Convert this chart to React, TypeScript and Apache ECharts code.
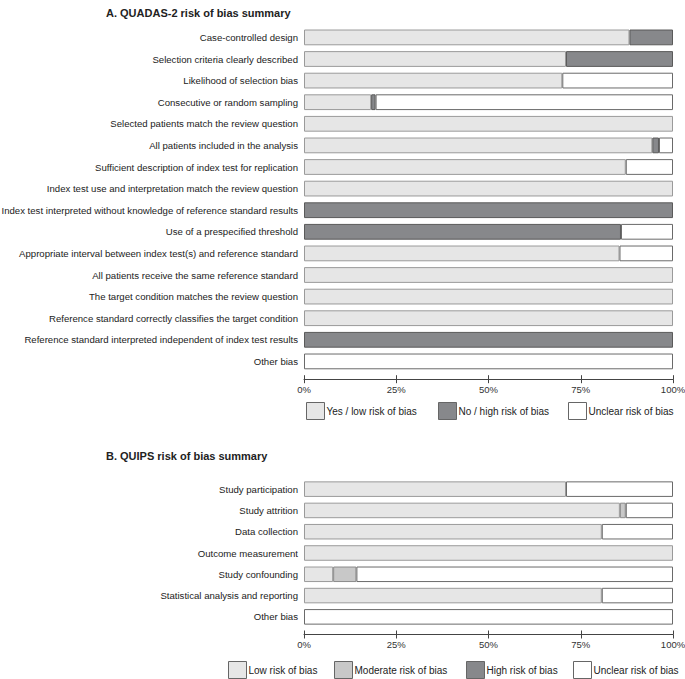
import React, { useEffect, useRef } from "react";
import * as echarts from "echarts";

const titleA = "A. QUADAS-2 risk of bias summary";
const titleB = "B. QUIPS risk of bias summary";

const categoriesA = [
  "Case-controlled design",
  "Selection criteria clearly described",
  "Likelihood of selection bias",
  "Consecutive or random sampling",
  "Selected patients match the review question",
  "All patients included in the analysis",
  "Sufficient description of index test for replication",
  "Index test use and interpretation match the review question",
  "Index test interpreted without knowledge of reference standard results",
  "Use of a prespecified threshold",
  "Appropriate interval between index test(s) and reference standard",
  "All patients receive the same reference standard",
  "The target condition matches the review question",
  "Reference standard correctly classifies the target condition",
  "Reference standard interpreted independent of index test results",
  "Other bias",
];
const yesA = [88.2, 71, 70, 18.2, 100, 94.4, 87.2, 100, null, null, 85.5, 100, 100, 100, null, null];
const noA = [11.8, 29, null, 1.2, null, 1.8, null, null, 100, 85.9, null, null, null, null, 100, null];
const unclearA = [null, null, 30, 80.6, null, 3.8, 12.8, null, null, 14.1, 14.5, null, null, null, null, 100];
const legendA = ["Yes / low risk of bias", "No / high risk of bias", "Unclear risk of bias"];

const categoriesB = [
  "Study participation",
  "Study attrition",
  "Data collection",
  "Outcome measurement",
  "Study confounding",
  "Statistical analysis and reporting",
  "Other bias",
];
const lowB = [71, 85.6, 80.7, 100, 7.9, 80.7, null];
const moderateB = [null, 1.6, null, null, 6.3, null, null];
const highB = [null, null, null, null, null, null, null];
const unclearB = [29, 12.8, 19.3, null, 85.8, 19.3, 100];
const legendB = ["Low risk of bias", "Moderate risk of bias", "High risk of bias", "Unclear risk of bias"];

const xTicks = [0, 25, 50, 75, 100];

const C_LOW = "#e6e6e6";
const C_HIGH = "#87888b";
const C_MOD = "#c8c8c8";
const C_UNCLEAR = "#ffffff";
const FONT = "Liberation Sans, Arial, sans-serif";

export default function App() {
  const ref = useRef<HTMLDivElement>(null);
  useEffect(() => {
    if (!ref.current) return;
    const chart = echarts.init(ref.current, null, { renderer: "svg" });

    const mainX = (gridIndex: number) => ({
      type: "value",
      gridIndex,
      min: xTicks[0],
      max: xTicks[xTicks.length - 1],
      interval: 25,
      position: "bottom",
      offset: 7,
      axisLine: { show: true, lineStyle: { color: "#444", width: 1 } },
      axisTick: { show: true, length: 4, lineStyle: { color: "#444" } },
      axisLabel: {
        formatter: "{value}%",
        fontSize: 9.5,
        color: "#333",
        fontFamily: FONT,
        margin: 5,
      },
      splitLine: { show: false },
    });
    const tickX = (gridIndex: number) => ({
      type: "value",
      gridIndex,
      min: xTicks[0],
      max: xTicks[xTicks.length - 1],
      interval: 25,
      position: "bottom",
      offset: 7,
      axisLine: { show: false },
      axisTick: { show: true, inside: true, length: 4, lineStyle: { color: "#444" } },
      axisLabel: { show: false },
      splitLine: { show: false },
    });
    const catY = (gridIndex: number, data: string[]) => ({
      type: "category",
      gridIndex,
      data,
      inverse: true,
      axisLine: { show: false },
      axisTick: { show: false },
      axisLabel: { fontSize: 9.6, color: "#222", fontFamily: FONT, margin: 6 },
    });
    const bar = (
      name: string,
      data: (number | null)[],
      color: string,
      border: string,
      xi: number,
      yi: number,
      stack: string
    ) => ({
      name,
      type: "bar",
      stack,
      xAxisIndex: xi,
      yAxisIndex: yi,
      data: data.map((v) => (v === null ? "-" : v)),
      barCategoryGap: "27%",
      itemStyle: { color, borderColor: border, borderWidth: 1 },
      emphasis: { disabled: true },
    });

    const legendItem = (name: string, left: number, top: number) => ({
      orient: "horizontal",
      icon: "rect",
      itemWidth: 18,
      itemHeight: 17,
      left,
      top,
      itemStyle: { borderColor: "#666", borderWidth: 1 },
      textStyle: { fontSize: 10, color: "#222", fontFamily: FONT, padding: [0, 0, 0, -3] },
      padding: 0,
      selectedMode: false,
      data: [name],
    });
    const legendLeftA = [306, 438, 568];
    const legendLeftB = [228, 334, 466, 573];

    chart.setOption({
      animation: false,
      textStyle: { fontFamily: FONT },
      title: [
        {
          text: titleA,
          left: 106,
          top: 7,
          padding: 0,
          textStyle: { fontSize: 11, fontWeight: "bold", color: "#222", fontFamily: FONT },
        },
        {
          text: titleB,
          left: 106,
          top: 450,
          padding: 0,
          textStyle: { fontSize: 11, fontWeight: "bold", color: "#222", fontFamily: FONT },
        },
      ],
      legend: [
        ...legendA.map((n, i) => legendItem(n, legendLeftA[i], 402)),
        ...legendB.map((n, i) => legendItem(n, legendLeftB[i], 661)),
      ],
      grid: [
        { left: 304, right: 12, top: 26.6, height: 345.6, outerBoundsMode: "none", containLabel: false },
        { left: 304, right: 12, top: 478.5, height: 149, outerBoundsMode: "none", containLabel: false },
      ],
      xAxis: [mainX(0), tickX(0), mainX(1), tickX(1)],
      yAxis: [catY(0, categoriesA), catY(1, categoriesB)],
      series: [
        bar(legendA[0], yesA, C_LOW, "#9a9a9a", 0, 0, "a"),
        bar(legendA[1], noA, C_HIGH, "#5a5a5a", 0, 0, "a"),
        bar(legendA[2], unclearA, C_UNCLEAR, "#6a6a6a", 0, 0, "a"),
        bar(legendB[0], lowB, C_LOW, "#9a9a9a", 2, 1, "b"),
        bar(legendB[1], moderateB, C_MOD, "#8a8a8a", 2, 1, "b"),
        bar(legendB[2], highB, C_HIGH, "#5a5a5a", 2, 1, "b"),
        bar(legendB[3], unclearB, C_UNCLEAR, "#6a6a6a", 2, 1, "b"),
      ],
    });
    return () => chart.dispose();
  }, []);

  return (
    <div
      ref={ref}
      style={{ position: "fixed", left: 0, top: 0, width: 685, height: 679, background: "#fff" }}
    />
  );
}
